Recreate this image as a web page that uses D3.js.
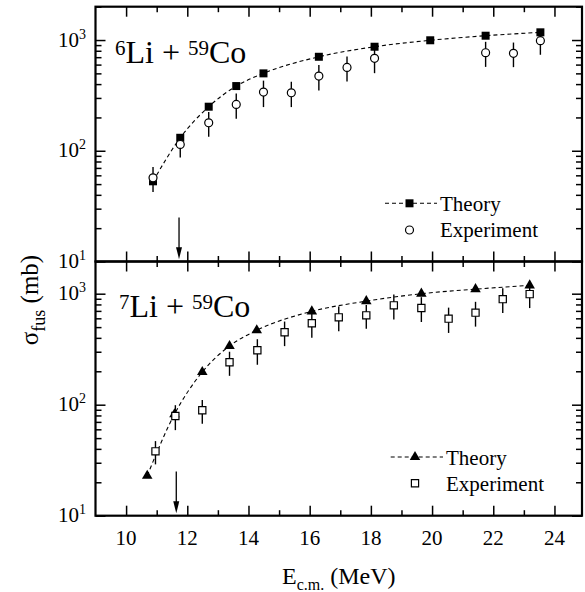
<!DOCTYPE html>
<html><head><meta charset="utf-8">
<script src="https://cdn.jsdelivr.net/npm/d3@7"></script>
<style>body{margin:0;background:#fff}svg{display:block}text{font-family:"Liberation Serif","Times New Roman",serif;fill:#000}</style>
</head><body><svg id="c" width="585" height="592"></svg>
<script>
// ---- data ----
const xTicksMajor = [10, 12, 14, 16, 18, 20, 22, 24];
const xTicksMinor = [11, 13, 15, 17, 19, 21, 23];
const yDecades = [10, 100, 1000];
const yDecadeLabels = ["1", "2", "3"];

// 6Li + 59Co
const li6TheoryE   = [10.88, 11.77, 12.70, 13.60, 14.49, 16.30, 18.12, 19.94, 21.75, 23.54];
const li6TheorySig = [53, 131, 250, 384, 500, 706, 870, 995, 1094, 1174];
const li6ExpE   = [10.88, 11.77, 12.70, 13.60, 14.49, 15.40, 16.30, 17.22, 18.12, 21.75, 22.66, 23.54];
const li6ExpSig = [57, 114, 179, 262, 339, 334, 473, 566, 683, 768, 759, 986];
const li6ExpErr = [14.5, 27, 45, 67, 91, 86, 122, 143, 181, 196, 190, 250];
const li6Barrier = 11.73;

// 7Li + 59Co
const li7TheoryE   = [10.69, 11.58, 12.49, 13.38, 14.27, 16.07, 17.85, 19.65, 21.42, 23.19];
const li7TheorySig = [22.9, 82, 197, 338, 468, 693, 857, 1000, 1099, 1189];
const li7ExpE   = [10.96, 11.61, 12.49, 13.38, 14.29, 15.18, 16.07, 16.95, 17.85, 18.75, 19.65, 20.54, 21.42, 22.31, 23.19];
const li7ExpSig = [38, 79, 89, 241, 309, 449, 541, 612, 638, 785, 743, 596, 675, 893, 991];
const li7ExpErr = [9, 20, 21.5, 59, 80, 112, 140, 153, 155, 200, 187, 153, 170, 224, 249];
const li7Barrier = 11.64;

const arrowSig = [25, 10.5];

// ---- layout ----
const svg = d3.select("#c");
const L = 95.5, R = 582;
const x = d3.scaleLinear().domain([9, 24.9]).range([L, R]);
const panels = [
  {top: 6.7, bottom: 261.5, ymax: 2000, theoryE: li6TheoryE, theorySig: li6TheorySig,
   expE: li6ExpE, expSig: li6ExpSig, expErr: li6ExpErr, barrier: li6Barrier,
   a: "6", b: "59", lx: 115, ly: 63.3, sym: "square", exp: "circle",
   leg: {line: [385, 437], mx: 409.5, y1: 203.3, y2: 230, tx: 440, tb1: 211, tb2: 237}},
  {top: 261.5, bottom: 515.7, ymax: 1950, theoryE: li7TheoryE, theorySig: li7TheorySig,
   expE: li7ExpE, expSig: li7ExpSig, expErr: li7ExpErr, barrier: li7Barrier,
   a: "7", b: "59", lx: 119, ly: 316.7, sym: "triangle", exp: "square",
   leg: {line: [390.7, 443], mx: 415, y1: 457, y2: 483.3, tx: 446, tb1: 465, tb2: 491}}
];

const minorVals = [];
[10, 100, 1000].forEach(d => { for (let k = 2; k <= 9; k++) minorVals.push(d * k); });

panels.forEach((p, i) => {
  const y = d3.scaleLog().domain([10, p.ymax]).range([p.bottom, p.top]);
  const minors = minorVals.filter(v => v <= p.ymax);
  const g = svg.append("g");

  const tickStyle = sel => { sel.select(".domain").remove(); sel.selectAll("line").attr("stroke", "#000").attr("stroke-width", 1.5); };
  g.append("g").attr("transform", `translate(${L},0)`).call(d3.axisLeft(y).tickValues(yDecades).tickSize(-10).tickFormat("")).call(tickStyle);
  g.append("g").attr("transform", `translate(${L},0)`).call(d3.axisLeft(y).tickValues(minors).tickSize(-6).tickFormat("")).call(tickStyle);
  g.append("g").attr("transform", `translate(${R},0)`).call(d3.axisRight(y).tickValues(yDecades).tickSize(-10).tickFormat("")).call(tickStyle);
  g.append("g").attr("transform", `translate(${R},0)`).call(d3.axisRight(y).tickValues(minors).tickSize(-6).tickFormat("")).call(tickStyle);
  g.append("g").attr("transform", `translate(0,${p.top})`).call(d3.axisTop(x).tickValues(xTicksMajor).tickSize(-10).tickFormat("")).call(tickStyle);
  g.append("g").attr("transform", `translate(0,${p.top})`).call(d3.axisTop(x).tickValues(xTicksMinor).tickSize(-5.5).tickFormat("")).call(tickStyle);
  g.append("g").attr("transform", `translate(0,${p.bottom})`).call(d3.axisBottom(x).tickValues(xTicksMajor).tickSize(-10).tickFormat("")).call(tickStyle);
  g.append("g").attr("transform", `translate(0,${p.bottom})`).call(d3.axisBottom(x).tickValues(xTicksMinor).tickSize(-5.5).tickFormat("")).call(tickStyle);

  g.append("rect").attr("x", L).attr("y", p.top).attr("width", R - L).attr("height", p.bottom - p.top)
    .attr("fill", "none").attr("stroke", "#000").attr("stroke-width", 2.2);

  yDecades.forEach((v, k) => {
    const t = g.append("text").attr("x", 86).attr("y", y(v) + 6.5).attr("text-anchor", "end").style("font-size", "21px");
    t.append("tspan").text("10");
    t.append("tspan").attr("dy", -8).style("font-size", "14px").text(yDecadeLabels[k]);
  });

  const tdata = p.theoryE.map((e, k) => [e, p.theorySig[k]]);
  g.append("path").datum(tdata)
    .attr("d", d3.line().x(d => x(d[0])).y(d => y(d[1])).curve(d3.curveMonotoneX))
    .attr("fill", "none").attr("stroke", "#000").attr("stroke-width", 1.1).attr("stroke-dasharray", "4,3");

  const edata = p.expE.map((e, k) => ({e, s: p.expSig[k], err: p.expErr[k]}));
  g.selectAll(".eb").data(edata).join("line")
    .attr("x1", d => x(d.e)).attr("x2", d => x(d.e))
    .attr("y1", d => y(d.s + d.err)).attr("y2", d => y(d.s - d.err))
    .attr("stroke", "#000").attr("stroke-width", 1.4);

  const symT = p.sym === "square" ? d3.symbolSquare : d3.symbolTriangle;
  const symSize = p.sym === "square" ? 64 : 48;
  g.selectAll(".tm").data(tdata).join("path")
    .attr("transform", d => `translate(${x(d[0])},${y(d[1])})`)
    .attr("d", d3.symbol().type(symT).size(symSize)).attr("fill", "#000");

  const symE = p.exp === "circle" ? d3.symbolCircle : d3.symbolSquare;
  const eSize = p.exp === "circle" ? 50 : 52;
  g.selectAll(".em").data(edata).join("path")
    .attr("transform", d => `translate(${x(d.e)},${y(d.s)})`)
    .attr("d", d3.symbol().type(symE).size(eSize)).attr("fill", "#fff").attr("stroke", "#000").attr("stroke-width", 1.2);

  const ax = x(p.barrier), ay1 = y(arrowSig[0]), ay2 = y(arrowSig[1]);
  g.append("line").attr("x1", ax).attr("x2", ax).attr("y1", ay1).attr("y2", ay2 - 8).attr("stroke", "#000").attr("stroke-width", 1.3);
  g.append("path").attr("d", `M${ax - 3},${ay2 - 12} L${ax + 3},${ay2 - 12} L${ax},${ay2} Z`).attr("fill", "#000");

  const lab = g.append("text").attr("x", p.lx).attr("y", p.ly).style("font-size", "32px");
  lab.append("tspan").attr("dy", -8).style("font-size", "21px").text(p.a);
  lab.append("tspan").attr("dy", 8).text("Li + ");
  lab.append("tspan").attr("dy", -8).style("font-size", "21px").text(p.b);
  lab.append("tspan").attr("dy", 8).text("Co");

  const lg = p.leg;
  g.append("line").attr("x1", lg.line[0]).attr("x2", lg.line[1]).attr("y1", lg.y1).attr("y2", lg.y1)
    .attr("stroke", "#000").attr("stroke-width", 1.1).attr("stroke-dasharray", "4,3");
  g.append("path").attr("transform", `translate(${lg.mx},${lg.y1})`).attr("d", d3.symbol().type(symT).size(symSize)).attr("fill", "#000");
  g.append("path").attr("transform", `translate(${lg.mx},${lg.y2})`).attr("d", d3.symbol().type(symE).size(eSize))
    .attr("fill", "#fff").attr("stroke", "#000").attr("stroke-width", 1.2);
  g.append("text").attr("x", lg.tx).attr("y", lg.tb1).style("font-size", "21px").text("Theory");
  g.append("text").attr("x", lg.tx).attr("y", lg.tb2).style("font-size", "21px").text("Experiment");
});

svg.append("g").selectAll("text").data(xTicksMajor).join("text")
  .attr("x", d => x(d)).attr("y", 545).attr("text-anchor", "middle").style("font-size", "21px").text(d => d);

const xt = svg.append("text").attr("x", (L + R) / 2).attr("y", 584).attr("text-anchor", "middle").style("font-size", "24px");
xt.append("tspan").text("E");
xt.append("tspan").attr("dy", 6).style("font-size", "16px").text("c.m.");
xt.append("tspan").attr("dy", -6).text(" (MeV)");

const yt = svg.append("text").attr("transform", "translate(38,300) rotate(-90)").attr("text-anchor", "middle").style("font-size", "25px");
yt.append("tspan").text("σ");
yt.append("tspan").attr("dy", 7).style("font-size", "18px").text("fus");
yt.append("tspan").attr("dy", -7).text(" (mb)");
</script></body></html>
